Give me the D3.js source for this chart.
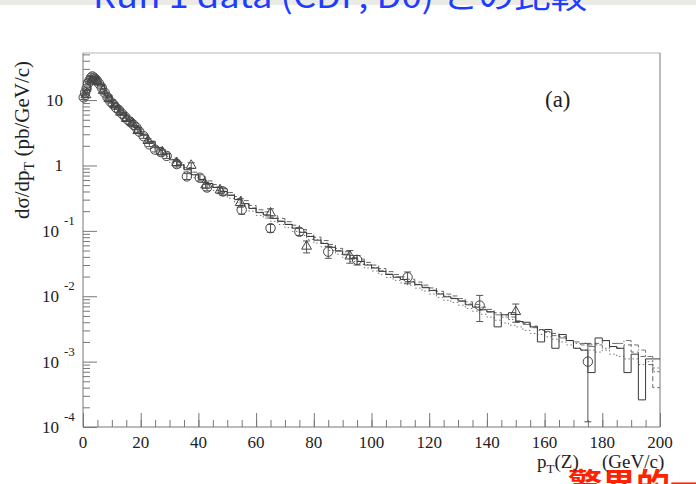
<!DOCTYPE html>
<html>
<head>
<meta charset="utf-8">
<script src="https://cdn.jsdelivr.net/npm/d3@7"></script>
<style>
  body { margin: 0; background: #fff; }
  svg { display: block; }
</style>
</head>
<body>
<div id="chart"></div>
<script>
// theory histograms, 2.5 GeV bins from 0 to 200
const binWidth = 2.5;
const solidHist = [14, 22, 17, 11.5, 8.2, 6.3, 4.9, 3.8, 2.9, 2.3,
    1.85, 1.5, 1.22, 1.02, 0.86, 0.72, 0.61, 0.53, 0.46, 0.40,
    0.35, 0.30, 0.26, 0.22, 0.19, 0.175, 0.155, 0.14, 0.125, 0.11,
    0.095, 0.082, 0.072, 0.064, 0.056, 0.049, 0.043, 0.038, 0.034, 0.030,
    0.027, 0.024, 0.0215, 0.0195, 0.018, 0.0165, 0.015, 0.0135, 0.0122, 0.0108,
    0.0098, 0.0092, 0.0084, 0.0074, 0.0068, 0.0062, 0.0058, 0.0034, 0.0052, 0.0056,
    0.0041, 0.0040, 0.0034, 0.0020, 0.0031, 0.0016, 0.0026, 0.0021, 0.0016, 0.0015,
    0.00068, 0.0023, 0.0021, 0.0017, 0.0016, 0.00068, 0.0013, 0.00026, 0.0011, 0.0011];
const dashedHist = [13, 21, 18, 12, 8.5, 6.2, 5.0, 3.9, 3.0, 2.35,
    1.95, 1.6, 1.3, 1.1, 0.93, 0.79, 0.67, 0.58, 0.51, 0.44,
    0.385, 0.335, 0.29, 0.245, 0.21, 0.195, 0.17, 0.155, 0.138, 0.122,
    0.105, 0.091, 0.080, 0.071, 0.062, 0.054, 0.048, 0.042, 0.037, 0.033,
    0.030, 0.0265, 0.0238, 0.0215, 0.0198, 0.0182, 0.0165, 0.0148, 0.0134, 0.0119,
    0.0108, 0.0101, 0.0092, 0.0082, 0.0075, 0.0068, 0.0063, 0.0056, 0.0052, 0.0048,
    0.0042, 0.0038, 0.0035, 0.0031, 0.0029, 0.0027, 0.0024, 0.0021, 0.0020, 0.0019,
    0.0018, 0.0019, 0.0021, 0.0019, 0.0016, 0.0018, 0.0014, 0.0012, 0.0009, 0.0004];
const dottedHist = [15, 23, 16.5, 11, 7.9, 6.0, 4.7, 3.7, 2.8, 2.2,
    1.7, 1.37, 1.11, 0.93, 0.78, 0.65, 0.55, 0.48, 0.415, 0.36,
    0.315, 0.27, 0.235, 0.2, 0.172, 0.157, 0.14, 0.125, 0.112, 0.098,
    0.085, 0.074, 0.065, 0.057, 0.05, 0.044, 0.039, 0.034, 0.0305, 0.027,
    0.0243, 0.0216, 0.0194, 0.0175, 0.016, 0.0147, 0.0133, 0.012, 0.0108, 0.0096,
    0.0087, 0.008, 0.0073, 0.0065, 0.0059, 0.0053, 0.0048, 0.0043, 0.0039, 0.0036,
    0.0034, 0.0030, 0.0027, 0.0026, 0.0024, 0.0022, 0.0020, 0.0018, 0.0016, 0.0015,
    0.0015, 0.0014, 0.0015, 0.0013, 0.0012, 0.0011, 0.0011, 0.0009, 0.0010, 0.0008];
const dashDotHist = [14.5, 22.5, 17.5, 11.8, 8.3, 6.4, 5.0, 3.85, 2.95, 2.32,
    1.88, 1.52, 1.24, 1.03, 0.87, 0.73, 0.62, 0.535, 0.465, 0.405,
    0.352, 0.303, 0.262, 0.224, 0.193, 0.176, 0.157, 0.141, 0.126, 0.111,
    0.096, 0.083, 0.073, 0.065, 0.057, 0.050, 0.044, 0.039, 0.0345, 0.0305,
    0.0275, 0.0245, 0.0218, 0.0198, 0.0182, 0.0168, 0.0152, 0.0137, 0.0124, 0.011,
    0.0100, 0.0093, 0.0085, 0.0076, 0.0069, 0.0063, 0.0057, 0.0052, 0.0048, 0.0044,
    0.0040, 0.0037, 0.0033, 0.0030, 0.0028, 0.0025, 0.0023, 0.0021, 0.0019, 0.0018,
    0.0017, 0.0018, 0.0016, 0.0017, 0.0019, 0.0021, 0.0018, 0.0015, 0.0012, 0.0007];

// CDF points (circles)
const cdfPt = [0.25, 0.75, 1.25, 1.75, 2.25, 2.75, 3.25, 3.75, 4.25, 4.75,
    5.5, 6.5, 7.5, 8.5, 9.5, 10.5, 11.5, 12.5, 13.5, 14.5, 15.5, 16.5, 17.5, 18.5, 19.5,
    21, 23, 25, 27, 29, 32.5, 36, 40.5, 43, 48.5, 55, 65, 75, 85, 95, 112.5, 137.5, 175];
const cdfVal = [11, 13, 15, 18, 20, 22, 23, 22, 21, 20,
    18, 15.5, 13, 11, 9.5, 8.6, 7.6, 7.0, 6.2, 5.6, 5.0, 4.6, 4.2, 3.8, 3.3,
    2.8, 2.1, 1.75, 1.6, 1.4, 1.05, 0.68, 0.65, 0.46, 0.40, 0.21, 0.11, 0.097, 0.048, 0.036, 0.0195, 0.0072, 0.001];
const cdfErr = [0.8, 0.8, 0.9, 1, 1, 1, 1, 1, 1, 1,
    0.9, 0.8, 0.7, 0.6, 0.5, 0.5, 0.4, 0.4, 0.35, 0.3, 0.3, 0.3, 0.3, 0.25, 0.22,
    0.2, 0.16, 0.14, 0.13, 0.12, 0.1, 0.07, 0.07, 0.05, 0.05, 0.03, 0.015, 0.012, 0.01, 0.006, 0.004, 0.0031, 0.0009];

// D0 points (triangles)
const d0Pt = [1, 3, 5, 7, 9, 11, 13, 15, 17, 19, 22.5, 27.5, 32.5, 37.5, 42.5, 47.5, 54.5, 65, 77.5, 92.5, 150];
const d0Val = [12, 20, 19, 14, 10.5, 8.5, 6.5, 5.2, 4.5, 3.4, 2.4, 1.6, 1.1, 1.0, 0.5, 0.42, 0.27, 0.187, 0.058, 0.041, 0.0058];
const d0Err = [1, 1.2, 1.1, 0.8, 0.6, 0.5, 0.4, 0.35, 0.3, 0.25, 0.18, 0.13, 0.1, 0.1, 0.05, 0.05, 0.04, 0.03, 0.012, 0.009, 0.0018];

const xTicks = [0, 20, 40, 60, 80, 100, 120, 140, 160, 180, 200];
const yExps = [-4, -3, -2, -1, 0, 1];

const width = 696, height = 484;
const svg = d3.select("#chart").append("svg")
    .attr("width", width)
    .attr("height", height);

// slide remnants: title strip at the top, red note at the bottom right
svg.append("rect").attr("x", 0).attr("y", 0).attr("width", width).attr("height", 5).attr("fill", "#ebebe6");
svg.append("text")
    .attr("x", 93).attr("y", 8)
    .attr("textLength", 494).attr("lengthAdjust", "spacingAndGlyphs")
    .style("font-family", "'Noto Sans CJK JP', 'Noto Sans', sans-serif")
    .style("font-size", "32px")
    .attr("fill", "#1f3dff")
    .text("Run 1 data (CDF, D0) との比較");
svg.append("text")
    .attr("x", 568).attr("y", 498)
    .style("font-family", "'Noto Sans CJK JP', sans-serif")
    .style("font-size", "34px").style("font-weight", "bold")
    .attr("fill", "#ff2200")
    .text("驚異的一致");

const x = d3.scaleLinear().domain([0, 200]).range([83, 660]);
const y = d3.scaleLog().domain([1e-4, 52.5]).range([427, 53]);

// frame
svg.append("line").attr("x1", 83).attr("x2", 660).attr("y1", 53).attr("y2", 53).attr("stroke", "#b5b5b5");
svg.append("line").attr("x1", 660).attr("x2", 660).attr("y1", 53).attr("y2", 427).attr("stroke", "#777");
svg.append("line").attr("x1", 83).attr("x2", 83).attr("y1", 53).attr("y2", 427).attr("stroke", "#777");
svg.append("line").attr("x1", 83).attr("x2", 660).attr("y1", 427).attr("y2", 427).attr("stroke", "#777");

// y ticks (inside, pointing right)
const yMajor = yExps.map(e => Math.pow(10, e));
const yMinor = [];
yExps.forEach(e => {
    for (let m = 2; m <= 9; m++) {
        const v = m * Math.pow(10, e);
        if (v < 52.5) yMinor.push(v);
    }
});
const yMinorAxis = svg.append("g").attr("transform", "translate(83,0)")
    .call(d3.axisRight(y).tickValues(yMinor).tickSize(7).tickFormat(""));
const yMajorAxis = svg.append("g").attr("transform", "translate(83,0)")
    .call(d3.axisRight(y).tickValues(yMajor).tickSize(14).tickFormat(""));

// x ticks (inside, pointing up)
const xMinor = d3.range(0, 201, 5);
const xMinorAxis = svg.append("g").attr("transform", "translate(0,427)")
    .call(d3.axisTop(x).tickValues(xMinor).tickSize(7).tickFormat(""));
const xMajorAxis = svg.append("g").attr("transform", "translate(0,427)")
    .call(d3.axisTop(x).tickValues(xTicks).tickSize(14).tickFormat(""));

[yMinorAxis, yMajorAxis, xMinorAxis, xMajorAxis].forEach(g => {
    g.select(".domain").remove();
    g.selectAll("line").attr("stroke", "#777");
});

const serif = "'Liberation Serif', 'Times New Roman', serif";

// x tick labels
svg.append("g").selectAll("text").data(xTicks).join("text")
    .attr("x", d => x(d)).attr("y", 448)
    .attr("text-anchor", "middle")
    .style("font-family", serif).style("font-size", "17px")
    .attr("fill", "#222")
    .text(d => d);

// y tick labels
const yLab = svg.append("g").style("font-family", serif).attr("fill", "#222");
yExps.forEach(e => {
    const yy = y(Math.pow(10, e));
    if (e === 0 || e === 1) {
        yLab.append("text").attr("x", 63).attr("y", yy + 6)
            .attr("text-anchor", "end").style("font-size", "17px")
            .text(e === 0 ? "1" : "10");
    } else {
        yLab.append("text").attr("x", 59).attr("y", yy + 6)
            .attr("text-anchor", "end").style("font-size", "17px")
            .text("10");
        yLab.append("text").attr("x", 64).attr("y", yy - 6)
            .style("font-size", "13px")
            .text(String(e));
    }
});

// axis titles
const yTitle = svg.append("text")
    .attr("transform", "translate(29,140) rotate(-90)")
    .attr("text-anchor", "middle")
    .style("font-family", serif).style("font-size", "21px")
    .attr("fill", "#222");
yTitle.append("tspan").text("dσ/dp");
yTitle.append("tspan").attr("dy", 5).style("font-size", "14px").text("T");
yTitle.append("tspan").attr("dy", -5).text(" (pb/GeV/c)");

const xTitle = svg.append("text")
    .attr("x", 537).attr("y", 468)
    .style("font-family", serif).style("font-size", "19px")
    .attr("fill", "#222");
xTitle.append("tspan").text("p");
xTitle.append("tspan").attr("dy", 5).style("font-size", "13px").text("T");
xTitle.append("tspan").attr("dy", -5).text("(Z)");
xTitle.append("tspan").attr("x", 602).text("(GeV/c)");

svg.append("text")
    .attr("x", 545).attr("y", 107)
    .style("font-family", serif).style("font-size", "23px")
    .attr("fill", "#222")
    .text("(a)");

// theory histograms
const step = d3.line()
    .x(d => x(d[0]))
    .y(d => y(d[1]))
    .curve(d3.curveStepAfter);

function histPoints(vals) {
    const pts = vals.map((v, i) => [i * binWidth, v]);
    pts.push([vals.length * binWidth, vals[vals.length - 1]]);
    return pts;
}

const histStyles = [
    { data: dottedHist, dash: "1.5,2.5", color: "#777" },
    { data: dashDotHist, dash: "7,2,1.5,2", color: "#777" },
    { data: dashedHist, dash: "5,3", color: "#666" },
    { data: solidHist, dash: null, color: "#3a3a3a" }
];
histStyles.forEach(h => {
    svg.append("path")
        .datum(histPoints(h.data))
        .attr("fill", "none")
        .attr("stroke", h.color)
        .attr("stroke-width", 1)
        .attr("stroke-dasharray", h.dash)
        .attr("d", step);
});

// error bars
function drawErrors(pts, vals, errs) {
    const g = svg.append("g").attr("stroke", "#555").attr("stroke-width", 1);
    pts.forEach((p, i) => {
        const hi = vals[i] + errs[i];
        const lo = Math.max(vals[i] - errs[i], 1.2e-4);
        const cx = x(p);
        g.append("line").attr("x1", cx).attr("x2", cx).attr("y1", y(hi)).attr("y2", y(lo));
        g.append("line").attr("x1", cx - 3.5).attr("x2", cx + 3.5).attr("y1", y(hi)).attr("y2", y(hi));
        g.append("line").attr("x1", cx - 3.5).attr("x2", cx + 3.5).attr("y1", y(lo)).attr("y2", y(lo));
    });
}
drawErrors(cdfPt, cdfVal, cdfErr);
drawErrors(d0Pt, d0Val, d0Err);

// CDF circles
svg.append("g").selectAll("circle").data(cdfPt).join("circle")
    .attr("cx", d => x(d))
    .attr("cy", (d, i) => y(cdfVal[i]))
    .attr("r", 4.7)
    .attr("fill", "none")
    .attr("stroke", "#444")
    .attr("stroke-width", 1);

// D0 triangles
const tri = d3.symbol().type(d3.symbolTriangle).size(42);
svg.append("g").selectAll("path").data(d0Pt).join("path")
    .attr("transform", (d, i) => `translate(${x(d)},${y(d0Val[i])})`)
    .attr("d", tri)
    .attr("fill", "none")
    .attr("stroke", "#444")
    .attr("stroke-width", 1);

// black axis label drawn over the red note
xTitle.raise();
</script>
</body>
</html>
